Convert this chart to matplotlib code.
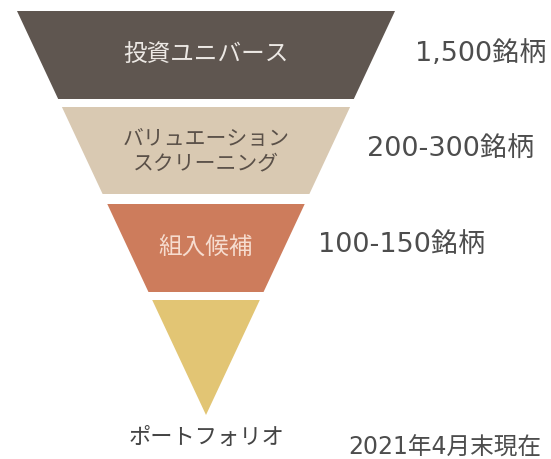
import matplotlib
matplotlib.use("Agg")
import matplotlib.pyplot as plt
from matplotlib.patches import Polygon

plt.rcParams['font.family'] = ['Noto Sans CJK JP', 'DejaVu Sans']
num_family = ['DejaVu Sans', 'Noto Sans CJK JP']

# data
stages = ["投資ユニバース", "バリュエーション\nスクリーニング", "組入候補", "ポートフォリオ"]
counts = ["1,500銘柄", "200-300銘柄", "100-150銘柄", ""]
note = "2021年4月末現在"

# styles
colors = ["#5f5650", "#d9c9b2", "#cd7c5c", "#e2c574"]
text_colors = ["#ece8e4", "#5a5048", "#f6dccf", "#444444"]

# layout (pixel coordinates)
W, H = 551, 459
cx, top_y, top_hw, apex_y = 206, 11, 189, 415
bands = [(11, 99), (107, 194), (204, 292), (300, 415)]
count_x = [415, 367, 318]
count_y = [54, 150, 246]

def hw(y):
    return top_hw * (apex_y - y) / (apex_y - top_y)

fig = plt.figure(figsize=(W / 100, H / 100), dpi=100)
ax = fig.add_axes([0, 0, 1, 1])
ax.set_xlim(0, W)
ax.set_ylim(H, 0)
ax.axis("off")

for i, (t, b) in enumerate(bands):
    pts = [(cx - hw(t), t), (cx + hw(t), t), (cx + hw(b), b), (cx - hw(b), b)]
    ax.add_patch(Polygon(pts, closed=True, facecolor=colors[i], edgecolor="none"))
    if i < 3:
        ym = (t + b) / 2
        if i == 1:
            l1, l2 = stages[i].split("\n")
            ax.text(cx, ym - 12, l1, ha="center", va="center",
                    fontsize=15, color=text_colors[i])
            ax.text(cx, ym + 13, l2, ha="center", va="center",
                    fontsize=15, color=text_colors[i])
        else:
            ax.text(cx, ym + (0 if i == 2 else -1), stages[i], ha="center", va="center",
                    fontsize=17, color=text_colors[i])
        ax.text(count_x[i], count_y[i], counts[i], ha="left", va="center",
                fontsize=19.5, color="#4d4d4d", family=num_family)

ax.text(cx, 437, stages[3], ha="center", va="center", fontsize=16, color="#444444")
ax.text(348, 448, note, ha="left", va="center", fontsize=17, color="#4d4d4d",
        family=num_family)

fig.savefig("out.png", dpi=100)
